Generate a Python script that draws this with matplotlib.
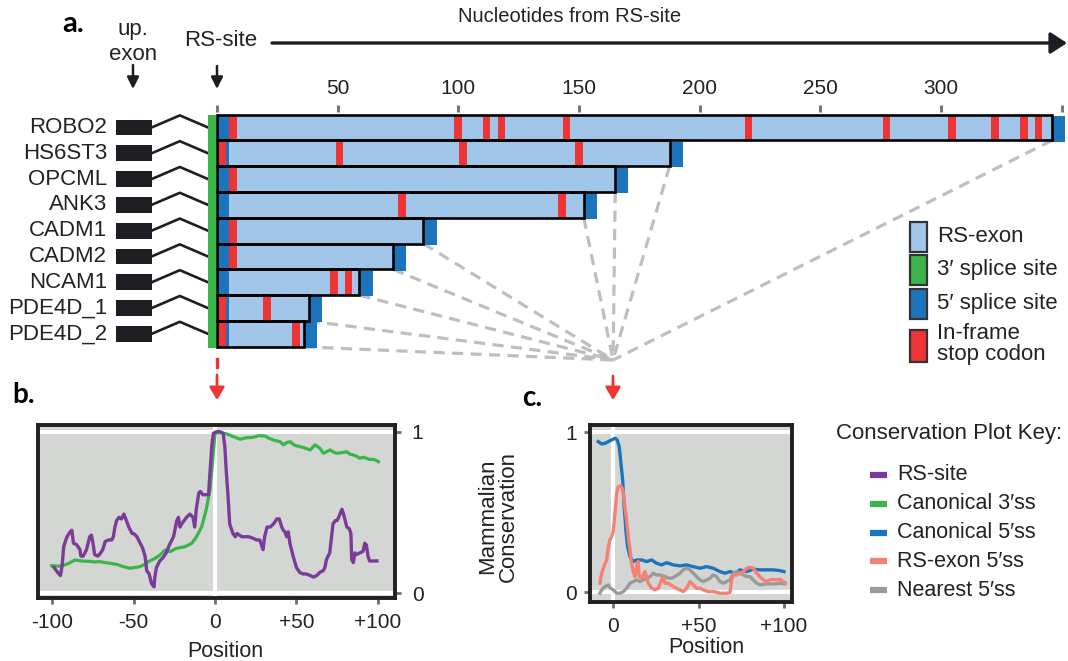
import matplotlib
matplotlib.use('Agg')
import matplotlib.pyplot as plt
from matplotlib.patches import Rectangle, FancyArrowPatch
from matplotlib.lines import Line2D
import matplotlib.transforms as mtrans

plt.rcParams['font.family'] = ['Liberation Sans', 'DejaVu Sans']

# ------------------------------------------------------------------ data
genes = ['ROBO2', 'HS6ST3', 'OPCML', 'ANK3', 'CADM1', 'CADM2', 'NCAM1', 'PDE4D_1', 'PDE4D_2']
exon_lengths = [346, 187.5, 165, 152, 85.5, 73, 59, 38, 36]
stop_codons = [
    [5, 98.3, 110.2, 116.3, 143.3, 218.7, 275.8, 303, 320.9, 332.8, 338.9],
    [0.8, 49.2, 100.4, 148.4],
    [5],
    [75.1, 141.5],
    [5],
    [5],
    [47, 53],
    [0.8, 19.2],
    [0.8, 31.1],
]
nt_ticks = [0, 50, 100, 150, 200, 250, 300, 350]
nt_tick_labels = ['', '50', '100', '150', '200', '250', '300', '']
converge_nt = 164.1

legend_a_labels = ['RS-exon', '3\u2032 splice site', '5\u2032 splice site', 'In-frame\nstop codon']

# panel b
rs_site_x = [-99, -96, -95, -94, -93, -91, -89, -88, -87, -85, -83, -82.5, -81, -79, -78, -77, -76, -75, -74,
             -72, -71, -69, -67.5, -65.5, -63.5, -62.5, -61.5, -60.5, -59, -57.5, -56, -54.5, -53, -51, -50,
             -48, -46, -44.5, -43, -42, -40.5, -39, -37.5, -37, -36, -34, -32, -30, -28, -25.5, -23.5, -22.5,
             -21.5, -20.5, -19, -17.5, -15.5, -13.5, -12.5, -11.5, -10, -9, -7.5, -6, -4, -2, -1, 1, 3, 5, 6,
             7, 8, 9, 11, 12.5, 13.5, 15, 16.5, 18.5, 20.5, 23.5, 25.5, 27.5, 29.5, 30.5, 32, 34, 36, 38, 39.5,
             41, 42, 43, 44, 45, 46, 48, 50, 52, 54, 56, 58.5, 60.5, 62.5, 64.5, 66.5, 67.5, 68.5, 70.5, 72.5,
             74, 75, 76, 78, 79, 81, 82.5, 83.5, 84, 85, 86, 87, 89, 91, 92, 93, 94, 95, 97, 99.5]
rs_site_y = [.16, .12, .11, .17, .29, .35, .38, .39, .31, .30, .27, .23, .23, .27, .31, .35, .36, .31, .24,
             .23, .24, .27, .32, .33, .33, .35, .41, .45, .47, .46, .49, .45, .41, .37, .37,
             .35, .31, .28, .23, .14, .12, .06, .04, .10, .16, .20, .22, .25, .30, .35, .45, .47,
             .41, .43, .45, .47, .49, .47, .41, .52, .62, .63, .61, .61, .61, .91, .99, 1.0, 1.0, .99, .91,
             .74, .60, .43, .37, .35, .37, .36, .35, .35, .35, .34, .33, .33, .27, .35, .41, .41, .43, .46, .46,
             .41, .39, .38, .35, .38, .31, .23, .16, .13, .12, .12, .11, .10, .11, .13, .14, .16, .21, .25, .43,
             .45, .45, .47, .52, .49, .41, .40, .37, .21, .19, .25, .24, .25, .26, .31, .30, .23, .20, .20, .20]

canon3_x = [-100.4, -97, -94.3, -90, -86.1, -82, -78, -74, -70.7, -67, -64.5, -60, -56.4, -52.3, -49, -46.1,
            -43, -41, -36.9, -33.8, -30.7, -27.7, -23.6, -18.4, -14.3, -11.3, -8.2, -5.5, -3.1, -1.6, 0,
            3, 7.2, 11.3, 15.4, 19, 23.6, 27, 30.7, 33, 35.9, 40, 42, 44, 46.1, 49, 52.3, 55, 58.4, 61.5,
            64.5, 66.6, 70.7, 72.5, 74.8, 78, 80.9, 83, 85, 87, 89.1, 91, 93.2, 95, 97.3, 99, 100.4]
canon3_y = [.171, .168, .169, .185, .206, .200, .198, .194, .196, .189, .186, .178, .165, .155, .160, .165,
            .180, .196, .216, .237, .268, .258, .278, .289, .309, .351, .412, .515, .639, .804, .990,
            .995, .986, .969, .953, .962, .965, .975, .973, .960, .948, .938, .918, .932, .938, .915, .907, .900,
            .887, .918, .897, .866, .887, .875, .866, .870, .876, .860, .856, .848, .835, .842, .835, .828, .829,
            .822, .814]

# panel c
canon5_x = [-8.8, -6.8, -4.9, -2.9, -1.0, 1.0, 2.3, 3.5, 4.5, 5.5, 6.4, 7.4, 8.4, 9.8, 11.7, 13.7, 16.6, 19.5,
            22.5, 25.4, 28.3, 31.3, 35.2, 39.1, 43.0, 46.9, 50.8, 54.7, 58.6, 62.5, 65.4, 68.4, 71.3, 74.2,
            78.1, 82.0, 85.9, 89.8, 93.8, 97.7, 100]
canon5_y = [.942, .927, .931, .942, .952, .963, .952, .910, .806, .702, .535, .390, .285, .223, .192, .202,
            .202, .192, .202, .181, .171, .185, .171, .165, .171, .160, .150, .160, .150, .129, .119, .129,
            .119, .140, .129, .144, .140, .140, .140, .135, .129]

rsexon5_x = [-7.8, -6.8, -5.5, -3.9, -2.9, -2.0, -1.0, 0, 1.0, 2.0, 2.9, 4.3, 5.3, 5.9, 6.8, 7.8, 8.8, 9.8,
             10.7, 11.7, 12.7, 13.7, 14.6, 15.2, 16.6, 18.6, 20.5, 22.5, 24.4, 26.4, 27.9, 29.3, 30.3, 32.2,
             35.2, 38.1, 41.0, 43.0, 44.9, 46.9, 48.8, 50.8, 52.7, 55.7, 58.6, 62.5, 66.4, 68.4, 69.3, 70.3,
             72.3, 74.2, 76.2, 78.1, 80.1, 82.0, 84.0, 85.9, 87.9, 89.8, 91.8, 93.8, 95.7, 97.7, 99.6, 100.6]
rsexon5_y = [.056, .119, .160, .202, .285, .327, .348, .379, .494, .619, .660, .665, .650, .619, .535, .452,
             .348, .265, .181, .129, .098, .171, .192, .098, .088, .129, .056, .025, .015, .025, .067, .098,
             .056, .056, .035, .019, .004, .025, .067, .046, .025, .025, .015, .004, .004, -.006, -.006, -.002,
             .077, .108, .108, .119, .129, .150, .156, .150, .119, .098, .077, .067, .077, .081, .077, .081,
             .067, .060]

nearest5_x = [-7.8, -6.8, -4.9, -2.9, -1.6, 0, 2.0, 3.9, 5.9, 7.8, 9.8, 11.7, 13.7, 15.6, 17.6, 19.5, 21.5,
              23.4, 25.4, 27.3, 30.3, 32.2, 34.2, 36.1, 39.1, 41.0, 43.0, 44.9, 46.9, 48.8, 50.8, 52.7, 54.7,
              56.6, 58.6, 60.5, 62.5, 64.5, 66.4, 68.4, 70.3, 72.3, 74.2, 76.2, 78.1, 80.1, 82.0, 84.0, 85.9,
              89.8, 93.8, 97.7, 100.6]
nearest5_y = [-.006, .015, .035, .046, .025, .015, -.006, -.006, .004, .025, .056, .067, .077, .067, .077,
              .088, .098, .119, .108, .108, .098, .088, .088, .098, .119, .140, .150, .140, .119, .098, .077,
              .067, .077, .088, .108, .098, .067, .056, .067, .077, .119, .129, .119, .108, .098, .098, .077,
              .056, .046, .052, .052, .056, .052]

b_xticks = [-100, -50, 0, 50, 100]
b_xticklabels = ['-100', '-50', '0', '+50', '+100']
c_xticks = [0, 50, 100]
c_xticklabels = ['0', '+50', '+100']
cons_yticks = [0, 1]

key_labels = ['RS-site', 'Canonical 3\u2032ss', 'Canonical 5\u2032ss', 'RS-exon 5\u2032ss', 'Nearest 5\u2032ss']

# ------------------------------------------------------------------ style
C_LIGHT = '#A1C6EA'
C_GREEN = '#39B54A'
C_BLUE = '#1C75BC'
C_RED = '#EE3434'
C_BLACK = '#1E1E22'
C_TXT = '#222222'
C_DASH = '#BEBEBE'
C_PURPLE = '#7B3C98'
C_SALMON = '#F58175'
C_GRAY = '#9A9A9A'
C_PANEL = '#D4D6D3'
key_colors = [C_PURPLE, C_GREEN, C_BLUE, C_SALMON, C_GRAY]
legend_a_colors = [C_LIGHT, C_GREEN, C_BLUE, C_RED]

W, H = 1068, 661
fig = plt.figure(figsize=(W / 100, H / 100), dpi=100)
T = mtrans.Affine2D().scale(1 / W, -1 / H).translate(0, 1) + fig.transFigure

# ------------------------------------------------------------------ panel a
PXNT = 2.4134    # pixels per nucleotide
X0 = 217.0       # pixel of nt 0
ROW = 25.8       # pixels per row
Y0 = 127.5       # pixel of first row centre
AX_BOT = 400.0
ax = fig.add_axes([0, 1 - AX_BOT / H, 1, AX_BOT / H])
ax.set_xlim(-X0 / PXNT, (W - X0) / PXNT)
ax.set_ylim((AX_BOT - Y0) / ROW, -Y0 / ROW)
ax.axis('off')

STOP_W = 3.1
SS5_W = 5.5
SITE_W = 5.0
n = len(genes)
cy_conv = (360 - Y0) / ROW
for i, (g, L, stops) in enumerate(zip(genes, exon_lengths, stop_codons)):
    # dashed guide to panel c
    ax.plot([L, converge_nt], [i + 0.5, cy_conv], color=C_DASH, lw=2.3,
            dashes=(3.5, 2.3), zorder=1, solid_capstyle='butt')
    ax.add_patch(Rectangle((L - 0.5, i - 0.45), SS5_W + 0.5, 1.0, fc=C_BLUE, ec='none', zorder=2))
    ax.add_patch(Rectangle((0, i - 0.5), L, 1, fc=C_LIGHT, ec='none', zorder=3))
    ax.add_patch(Rectangle((0, i - 0.5), SITE_W, 1, fc=C_BLUE, ec='none', zorder=4))
    for s in stops:
        ax.add_patch(Rectangle((s, i - 0.5), STOP_W, 1, fc=C_RED, ec='none', zorder=5))
    ax.add_patch(Rectangle((0, i - 0.5), L, 1, fill=False, ec='black', lw=1.9, zorder=6))
    # upstream exon + intron
    ax.add_patch(Rectangle((-41.9, i - 0.31), 14.8, 0.62, fc=C_BLACK, ec='none', zorder=3))
    ax.plot([-27.1, -15.4, -3.7], [i, i - 0.47, i], color=C_BLACK, lw=1.9, zorder=3)
    ax.text(-45.6, i, g, ha='right', va='center', fontsize=16, color=C_TXT)

# green 3' splice site column
ax.add_patch(Rectangle((-3.6, -0.5), 3.3, n + 0.05, fc=C_GREEN, ec='none', zorder=4))

# nucleotide axis
for t, lab in zip(nt_ticks, nt_tick_labels):
    ax.plot([t, t], [-0.87, -0.62], color='#777777', lw=2.2, solid_capstyle='butt')
    if lab:
        ax.text(t, -1.5, lab, ha='center', va='center', fontsize=15, color=C_TXT)


def arrow(p0, p1, color, lw, hl, hw):
    fig.patches.append(FancyArrowPatch(p0, p1, transform=T, arrowstyle=f'-|>,head_length={hl},head_width={hw}',
                                       mutation_scale=10, lw=lw, color=color, shrinkA=0, shrinkB=0))


fig.text(62, 24, 'a.', transform=T, fontsize=21, fontweight='bold', family=['Lato', 'DejaVu Sans'],
         ha='left', va='center', color='black')
fig.text(133, 30, 'up.', transform=T, fontsize=16, ha='center', va='center', color=C_TXT)
fig.text(133, 55, 'exon', transform=T, fontsize=16, ha='center', va='center', color=C_TXT)
fig.text(221, 40, 'RS-site', transform=T, fontsize=16, ha='center', va='center', color=C_TXT)
arrow((133, 65), (133, 89), C_BLACK, 1.8, 0.7, 0.35)
arrow((217, 66), (217, 89), C_BLACK, 1.8, 0.7, 0.35)
arrow((272, 43), (1067, 43), C_BLACK, 2.4, 1.0, 0.65)
fig.text(570, 17, 'Nucleotides from RS-site', transform=T, fontsize=14.5, ha='center', va='center',
         color=C_TXT)

# legend a
leg_boxes = [(222, 252), (255, 285), (289, 319), (330, 362)]
leg_text_y = [237, 270, 304, 344]
for (y0, y1), c, lab, ty in zip(leg_boxes, legend_a_colors, legend_a_labels, leg_text_y):
    fig.patches.append(Rectangle((910, y1), 17, y0 - y1, transform=T, fc=c, ec='#333333', lw=1.6))
    fig.text(937, ty, lab, transform=T, fontsize=16, ha='left', va='center', color=C_TXT, linespacing=0.95)

# red arrows
fig.lines.append(Line2D([217, 217], [359, 367], transform=T, color=C_RED, lw=2.4))
arrow((217, 375), (217, 400), C_RED, 2.0, 0.75, 0.45)
arrow((613, 376), (613, 400), C_RED, 2.0, 0.75, 0.45)


# ------------------------------------------------------------------ panels b, c
def style_cons(a, ypad):
    a.set_facecolor(C_PANEL)
    for sp in a.spines.values():
        sp.set_linewidth(2.8)
        sp.set_color('#231F20')
    a.axhline(0, color='white', lw=3, zorder=1)
    a.axhline(1, color='white', lw=3, zorder=1)
    a.axvline(0, color='white', lw=3, zorder=1)
    a.tick_params(colors='#6D6E71', labelcolor=C_TXT, labelsize=15, length=4.5, width=2)
    a.tick_params(axis='x', pad=6.5)
    a.tick_params(axis='y', pad=ypad)


axb = fig.add_axes([38 / W, 1 - 598 / H, (394.5 - 38) / W, (598 - 424.7) / H])
axb.set_xlim(-108.8, 110.3)
axb.set_ylim(-0.029, 1.043)
style_cons(axb, 8)
axb.plot(canon3_x, canon3_y, color=C_GREEN, lw=2.3, zorder=3)
axb.plot(rs_site_x, rs_site_y, color=C_PURPLE, lw=2.4, zorder=4)
axb.set_xticks(b_xticks)
axb.set_xticklabels(b_xticklabels)
axb.yaxis.tick_right()
axb.set_yticks(cons_yticks)
axb.set_yticklabels([str(v) for v in cons_yticks])
axb.set_xlabel('Position', fontsize=15.5, color=C_TXT)
axb.xaxis.set_label_coords((225 - 38) / 356.5, -0.25)
fig.text(12, 395, 'b.', transform=T, fontsize=20, fontweight='bold', family=['Lato', 'DejaVu Sans'],
         ha='left', va='center', color='black')

axc = fig.add_axes([589.7 / W, 1 - 602 / H, (792 - 589.7) / W, (602 - 424.7) / H])
axc.set_xlim(-13.8, 104.7)
axc.set_ylim(-0.061, 1.0475)
style_cons(axc, 5)
axc.plot(canon5_x, canon5_y, color=C_BLUE, lw=2.4, zorder=3)
axc.plot(nearest5_x, nearest5_y, color=C_GRAY, lw=2.4, zorder=4)
axc.plot(rsexon5_x, rsexon5_y, color=C_SALMON, lw=2.4, zorder=5)
axc.set_xticks(c_xticks)
axc.set_xticklabels(c_xticklabels)
axc.set_yticks(cons_yticks)
axc.set_yticklabels([str(v) for v in cons_yticks])
axc.set_xlabel('Position', fontsize=15.5, color=C_TXT)
axc.xaxis.set_label_coords((706 - 589.7) / 202.3, -0.2)
fig.text(498, 516, 'Mammalian\nConservation', transform=T, fontsize=16, rotation=90, ha='center',
         va='center', color=C_TXT, linespacing=1.0)
fig.text(522, 398, 'c.', transform=T, fontsize=20, fontweight='bold', family=['Lato', 'DejaVu Sans'],
         ha='left', va='center', color='black')

# conservation key
fig.text(836, 434, 'Conservation Plot Key:', transform=T, fontsize=16, ha='left', va='center', color=C_TXT)
for k, (lab, c) in enumerate(zip(key_labels, key_colors)):
    yy = 475 + k * 28.75
    fig.lines.append(Line2D([870, 887], [yy, yy], transform=T, color=c, lw=4.5, solid_capstyle='butt'))
    fig.text(897, yy, lab, transform=T, fontsize=15.5, ha='left', va='center', color=C_TXT)

fig.savefig('out.png', dpi=100)
